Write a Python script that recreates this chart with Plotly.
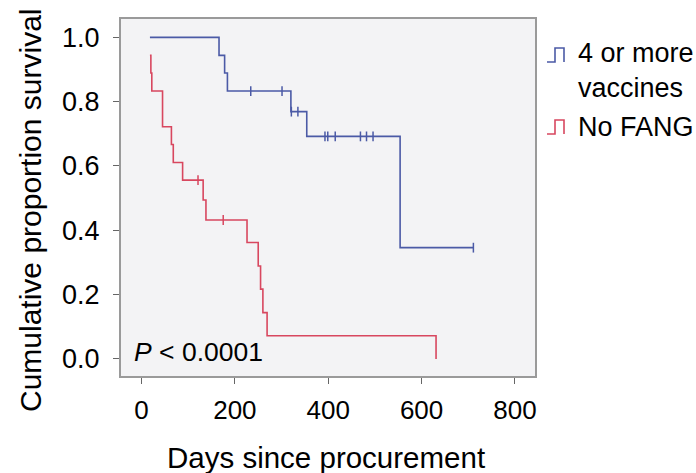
import plotly.graph_objects as go
import numpy as np

# ---- data ----
blue_name = "4 or more<br>vaccines"
red_name = "No FANG"

blue_times = [18, 166, 178, 184, 320, 354, 554, 711]
blue_surv = [1.0, 0.944, 0.889, 0.833, 0.769, 0.692, 0.346, 0.346]
blue_censor = [234, 301, 321, 335, 393, 399, 415, 469, 482, 496, 711]

red_times = [18, 20, 22, 45, 64, 68, 88, 132, 138, 226, 250, 255, 260, 269, 631]
red_surv = [0.944, 0.889, 0.833, 0.722, 0.667, 0.611, 0.556, 0.494, 0.432, 0.362,
            0.289, 0.217, 0.144, 0.072, 0.0]
red_censor = [121, 175]

x_ticks = [0, 200, 400, 600, 800]
y_ticks = [0.0, 0.2, 0.4, 0.6, 0.8, 1.0]
y_tick_labels = ["0.0", "0.2", "0.4", "0.6", "0.8", "1.0"]
p_text = "<i>P</i> &lt; 0.0001"
x_title = "Days since procurement"
y_title = "Cumulative proportion survival"

BLUE = "#4b5aa6"
RED = "#d8475f"
FONT = "Liberation Sans, Arial, sans-serif"


def surv_at(t, times, surv):
    idx = np.searchsorted(np.array(times), t, side="right") - 1
    idx = max(idx, 0)
    return surv[idx]


fig = go.Figure()
fig.add_trace(go.Scatter(x=blue_times, y=blue_surv, mode="lines", line_shape="hv",
                         line=dict(color=BLUE, width=1.6), showlegend=False,
                         hoverinfo="skip"))
fig.add_trace(go.Scatter(x=red_times, y=red_surv, mode="lines", line_shape="hv",
                         line=dict(color=RED, width=1.6), showlegend=False,
                         hoverinfo="skip"))
fig.add_trace(go.Scatter(x=blue_censor, y=[surv_at(t, blue_times, blue_surv) for t in blue_censor],
                         mode="markers",
                         marker=dict(symbol="line-ns", size=7, line=dict(color=BLUE, width=1.5)),
                         showlegend=False))
fig.add_trace(go.Scatter(x=red_censor, y=[surv_at(t, red_times, red_surv) for t in red_censor],
                         mode="markers",
                         marker=dict(symbol="line-ns", size=7, line=dict(color=RED, width=1.5)),
                         showlegend=False))

fig.add_annotation(x=-20, y=0.022, xref="x", yref="y", text=p_text, showarrow=False,
                   xanchor="left", yanchor="middle",
                   font=dict(family=FONT, size=26.5, color="#000"))

# Layout helpers (pixel -> paper)
L, T, W, H = 121, 19, 414, 357
def px(xp):
    return (xp - L) / W
def py(yp):
    return (T + H - yp) / H

# Legend (custom: step icons + text)
for ycen, col in [(55, BLUE), (127, RED)]:
    fig.add_shape(type="path", xref="paper", yref="paper",
                  xsizemode="pixel", ysizemode="pixel",
                  xanchor=px(547), yanchor=py(ycen),
                  path="M 0,-7 L 8,-7 L 8,7 L 17,7 L 17,-7",
                  line=dict(color=col, width=1.6))
for ytop, txt in [(36, blue_name), (110, red_name)]:
    fig.add_annotation(x=px(576), y=py(ytop), xref="paper", yref="paper",
                       text=txt, showarrow=False, xanchor="left", yanchor="top",
                       align="left", font=dict(family=FONT, size=27, color="#000"))

# Axis titles
fig.add_annotation(x=px(326), y=py(457), xref="paper", yref="paper", text=x_title,
                   showarrow=False, xanchor="center", yanchor="middle",
                   font=dict(family=FONT, size=29.5, color="#000"))
fig.add_annotation(x=px(30), y=py(210), xref="paper", yref="paper", text=y_title,
                   showarrow=False, xanchor="center", yanchor="middle", textangle=-90,
                   font=dict(family=FONT, size=30, color="#000"))

fig.update_layout(
    width=696, height=473,
    margin=dict(l=121, r=696 - 535, t=19, b=473 - 376),
    paper_bgcolor="white", plot_bgcolor="#f3f3f5",
    font=dict(family=FONT, color="#000"),
    xaxis=dict(range=[-44, 843], tickvals=x_ticks, ticks="outside", ticklen=6,
               tickcolor="#666", tickwidth=1.3, showgrid=False, zeroline=False,
               showline=True, linecolor="#9a9a9a", linewidth=2, mirror=True,
               ticklabelstandoff=4,
               tickfont=dict(family=FONT, size=26, color="#000")),
    yaxis=dict(range=[-0.053, 1.057], tickvals=y_ticks, ticktext=y_tick_labels,
               ticks="outside", ticklen=6, tickcolor="#666", tickwidth=1.3,
               showgrid=False, zeroline=False,
               showline=True, linecolor="#9a9a9a", linewidth=2, mirror=True,
               ticklabelstandoff=8,
               tickfont=dict(family=FONT, size=27, color="#000")),
)

fig.write_html("out.html")
